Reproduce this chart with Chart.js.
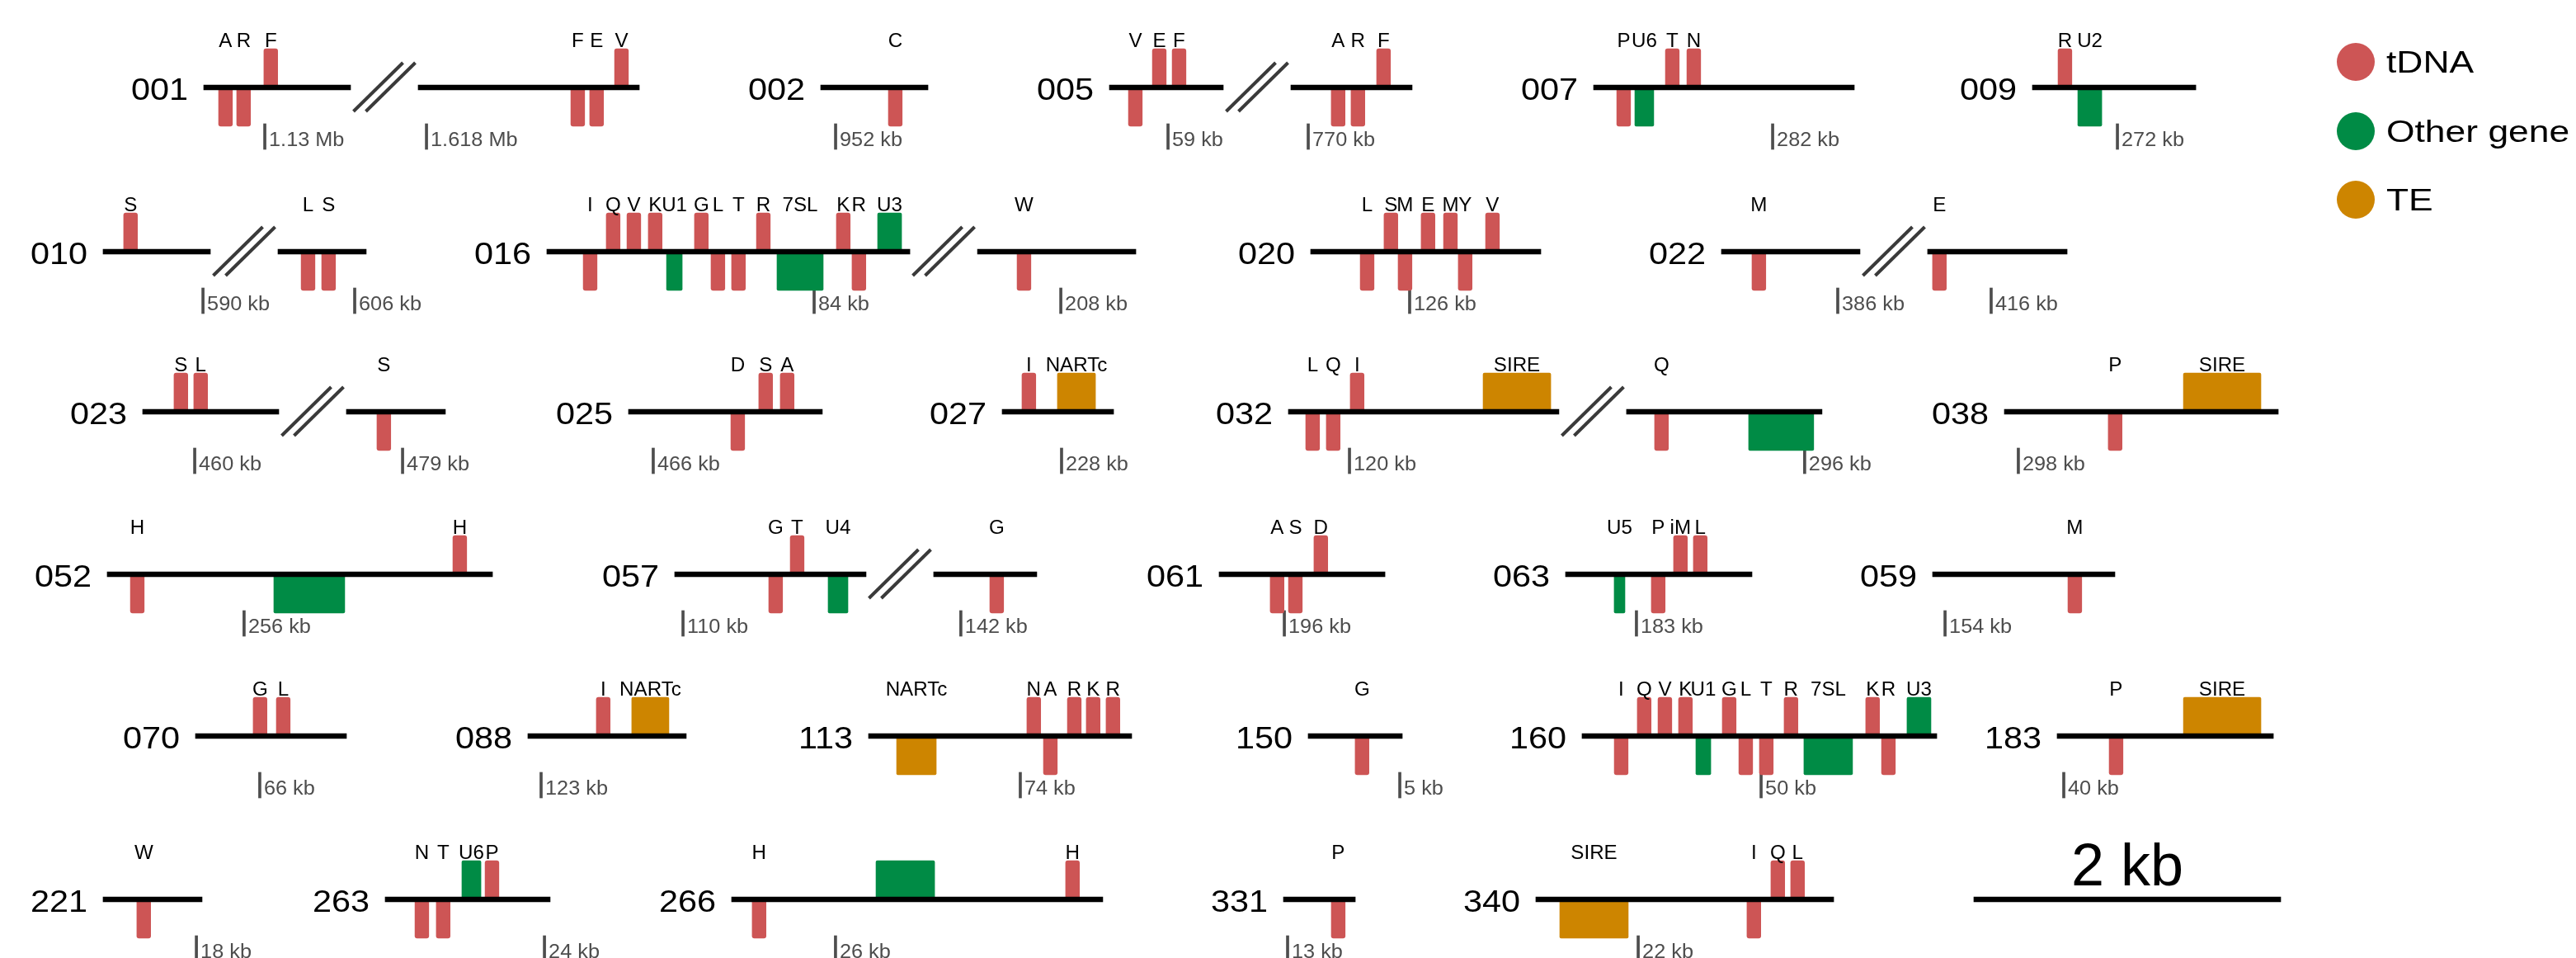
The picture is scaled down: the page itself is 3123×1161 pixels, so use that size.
<!DOCTYPE html>
<html>
<head>
<meta charset="utf-8">
<title>tDNA tracks</title>
<script src="https://cdn.jsdelivr.net/npm/chart.js@4.4.0/dist/chart.umd.min.js"></script>
<style>
    html, body { margin: 0; padding: 0; background: #fff; }
</style>
</head>
<body>
<canvas id="tracks" width="3123" height="1161"></canvas>
<script>
/* ── data: tracks, segments (kb), features (kb from segment start) ── */

const trackIds = ['001', '002', '005', '007', '009',
                  '010', '016', '020', '022',
                  '023', '025', '027', '032', '038',
                  '052', '057', '061', '063', '059',
                  '070', '088', '113', '150', '160', '183',
                  '221', '263', '266', '331', '340'];

// drawn length of each piece of a track, a break "//" sits between two pieces
const segmentKb = [
    [0.957, 1.441], [0.699], [0.742, 0.790], [1.699], [1.065],
    [0.699, 0.575], [2.366, 1.032], [1.500], [0.903, 0.909],
    [0.887, 0.645], [1.263], [0.726], [1.763, 1.274], [1.785],
    [2.511], [1.247, 0.672], [1.081], [1.215], [1.188],
    [0.984], [1.032], [1.715], [0.613], [2.312], [1.409],
    [0.645], [1.075], [2.419], [0.468], [1.941],
];

// tDNA: track, piece, start kb, strand (+1 above / -1 below), name
const TDNA_KB = 0.09;
const tdna = [
    ['001', 0, 0.097, -1, 'A'], ['001', 0, 0.215, -1, 'R'], ['001', 0, 0.392, 1, 'F'],
    ['001', 1, 0.995, -1, 'F'], ['001', 1, 1.118, -1, 'E'], ['001', 1, 1.280, 1, 'V'],
    ['002', 0, 0.441, -1, 'C'],
    ['005', 0, 0.124, -1, 'V'], ['005', 0, 0.280, 1, 'E'], ['005', 0, 0.409, 1, 'F'],
    ['005', 1, 0.263, -1, 'A'], ['005', 1, 0.392, -1, 'R'], ['005', 1, 0.559, 1, 'F'],
    ['007', 0, 0.151, -1, 'P'], ['007', 0, 0.468, 1, 'T'], ['007', 0, 0.608, 1, 'N'],
    ['009', 0, 0.167, 1, 'R'],
    ['010', 0, 0.134, 1, 'S'], ['010', 1, 0.151, -1, 'L'], ['010', 1, 0.285, -1, 'S'],
    ['016', 0, 0.237, -1, 'I'], ['016', 0, 0.387, 1, 'Q'], ['016', 0, 0.522, 1, 'V'],
    ['016', 0, 0.661, 1, 'K'], ['016', 0, 0.962, 1, 'G'], ['016', 0, 1.070, -1, 'L'],
    ['016', 0, 1.204, -1, 'T'], ['016', 0, 1.366, 1, 'R'], ['016', 0, 1.887, 1, 'K'],
    ['016', 0, 1.989, -1, 'R'], ['016', 1, 0.258, -1, 'W'],
    ['020', 0, 0.323, -1, 'L'], ['020', 0, 0.478, 1, 'S'], ['020', 0, 0.570, -1, 'M'],
    ['020', 0, 0.720, 1, 'E'], ['020', 0, 0.866, 1, 'M'], ['020', 0, 0.962, -1, 'Y'],
    ['020', 0, 1.140, 1, 'V'],
    ['022', 0, 0.199, -1, 'M'], ['022', 1, 0.032, -1, 'E'],
    ['023', 0, 0.204, 1, 'S'], ['023', 0, 0.333, 1, 'L'], ['023', 1, 0.199, -1, 'S'],
    ['025', 0, 0.667, -1, 'D'], ['025', 0, 0.849, 1, 'S'], ['025', 0, 0.989, 1, 'A'],
    ['027', 0, 0.129, 1, 'I'],
    ['032', 0, 0.113, -1, 'L'], ['032', 0, 0.247, -1, 'Q'], ['032', 0, 0.403, 1, 'I'],
    ['032', 1, 0.183, -1, 'Q'],
    ['038', 0, 0.677, -1, 'P'],
    ['052', 0, 0.151, -1, 'H'], ['052', 0, 2.253, 1, 'H'],
    ['057', 0, 0.613, -1, 'G'], ['057', 0, 0.753, 1, 'T'], ['057', 1, 0.366, -1, 'G'],
    ['061', 0, 0.333, -1, 'A'], ['061', 0, 0.452, -1, 'S'], ['061', 0, 0.618, 1, 'D'],
    ['063', 0, 0.559, -1, 'P'], ['063', 0, 0.704, 1, 'iM'], ['063', 0, 0.833, 1, 'L'],
    ['059', 0, 0.882, -1, 'M'],
    ['070', 0, 0.376, 1, 'G'], ['070', 0, 0.527, 1, 'L'],
    ['088', 0, 0.446, 1, 'I'],
    ['113', 0, 1.032, 1, 'N'], ['113', 0, 1.140, -1, 'A'], ['113', 0, 1.296, 1, 'R'],
    ['113', 0, 1.419, 1, 'K'], ['113', 0, 1.548, 1, 'R'],
    ['150', 0, 0.306, -1, 'G'],
    ['160', 0, 0.210, -1, 'I'], ['160', 0, 0.360, 1, 'Q'], ['160', 0, 0.495, 1, 'V'],
    ['160', 0, 0.629, 1, 'K'], ['160', 0, 0.914, 1, 'G'], ['160', 0, 1.022, -1, 'L'],
    ['160', 0, 1.156, -1, 'T'], ['160', 0, 1.317, 1, 'R'], ['160', 0, 1.849, 1, 'K'],
    ['160', 0, 1.952, -1, 'R'],
    ['183', 0, 0.339, -1, 'P'],
    ['221', 0, 0.220, -1, 'W'],
    ['263', 0, 0.194, -1, 'N'], ['263', 0, 0.333, -1, 'T'], ['263', 0, 0.651, 1, 'P'],
    ['266', 0, 0.134, -1, 'H'], ['266', 0, 2.177, 1, 'H'],
    ['331', 0, 0.312, -1, 'P'],
    ['340', 0, 1.376, -1, 'I'], ['340', 0, 1.532, 1, 'Q'], ['340', 0, 1.661, 1, 'L'],
];

// other genes / TE: track, piece, start kb, end kb, strand, name
const otherGenes = [
    ['007', 0, 0.269, 0.392, -1, 'U6'],
    ['009', 0, 0.296, 0.452, -1, 'U2'],
    ['016', 0, 0.780, 0.882, -1, 'U1'], ['016', 0, 1.500, 1.801, -1, '7SL'],
    ['016', 0, 2.156, 2.312, 1, 'U3'],
    ['032', 1, 0.796, 1.220, -1, ''],
    ['052', 0, 1.086, 1.548, -1, ''],
    ['057', 0, 1.000, 1.129, -1, 'U4'],
    ['063', 0, 0.317, 0.387, -1, 'U5'],
    ['160', 0, 0.742, 0.839, -1, 'U1'], ['160', 0, 1.446, 1.763, -1, '7SL'],
    ['160', 0, 2.118, 2.274, 1, 'U3'],
    ['263', 0, 0.500, 0.624, 1, 'U6'],
    ['266', 0, 0.941, 1.323, 1, ''],
];
const transposons = [
    ['027', 0, 0.360, 0.608, 1, 'NARTc'],
    ['032', 0, 1.269, 1.710, 1, 'SIRE'],
    ['038', 0, 1.167, 1.672, 1, 'SIRE'],
    ['088', 0, 0.677, 0.919, 1, 'NARTc'],
    ['113', 0, 0.183, 0.441, -1, 'NARTc'],
    ['183', 0, 0.823, 1.328, 1, 'SIRE'],
    ['340', 0, 0.156, 0.602, -1, 'SIRE'],
];

// genome coordinate marks under the tracks
const coordTicks = [
    ['001', 0, 0.398, '1.13 Mb'], ['001', 1, 0.054, '1.618 Mb'],
    ['002', 0, 0.097, '952 kb'],
    ['005', 0, 0.382, '59 kb'], ['005', 1, 0.113, '770 kb'],
    ['007', 0, 1.167, '282 kb'],
    ['009', 0, 0.554, '272 kb'],
    ['010', 0, 0.651, '590 kb'], ['010', 1, 0.500, '606 kb'],
    ['016', 0, 1.742, '84 kb'], ['016', 1, 0.543, '208 kb'],
    ['020', 0, 0.645, '126 kb'],
    ['022', 0, 0.758, '386 kb'], ['022', 1, 0.414, '416 kb'],
    ['023', 0, 0.339, '460 kb'], ['023', 1, 0.366, '479 kb'],
    ['025', 0, 0.161, '466 kb'],
    ['027', 0, 0.387, '228 kb'],
    ['032', 0, 0.398, '120 kb'], ['032', 1, 1.161, '296 kb'],
    ['038', 0, 0.091, '298 kb'],
    ['052', 0, 0.892, '256 kb'],
    ['057', 0, 0.054, '110 kb'], ['057', 1, 0.177, '142 kb'],
    ['061', 0, 0.425, '196 kb'],
    ['063', 0, 0.462, '183 kb'],
    ['059', 0, 0.081, '154 kb'],
    ['070', 0, 0.419, '66 kb'],
    ['088', 0, 0.086, '123 kb'],
    ['113', 0, 0.989, '74 kb'],
    ['150', 0, 0.597, '5 kb'],
    ['160', 0, 1.167, '50 kb'],
    ['183', 0, 0.043, '40 kb'],
    ['221', 0, 0.608, '18 kb'],
    ['263', 0, 1.038, '24 kb'],
    ['266', 0, 0.677, '26 kb'],
    ['331', 0, 0.027, '13 kb'],
    ['340', 0, 0.667, '22 kb'],
];

const scaleBarKb = 2;
const scaleBarLabel = '2 kb';
const legendLabels = ['tDNA', 'Other gene', 'TE'];

/* ── layout & style ── */

const W = 3123, H = 1161;
const PX_PER_KB = 186;
const BREAK_GAP = 82;
const rowY = [106, 305, 499, 696, 892, 1090];
const trackRow = [0, 0, 0, 0, 0, 1, 1, 1, 1, 2, 2, 2, 2, 2, 3, 3, 3, 3, 3,
                  4, 4, 4, 4, 4, 4, 5, 5, 5, 5, 5];
const trackLeft = [247, 995, 1345, 1932, 2464,
                   125, 663, 1589, 2087,
                   173, 762, 1215, 1562, 2430,
                   130, 818, 1478, 1898, 2343,
                   237, 640, 1053, 1586, 1918, 2494,
                   125, 467, 887, 1556, 1862];
const SCALE_LEFT = 2393;
const COLORS = { tdna: '#CD5555', other: '#008B45', te: '#CD8500' };
const FONT = '"Liberation Sans", Arial, sans-serif';

const trackIndex = id => trackIds.indexOf(id);
const lineOf = id => rowY[trackRow[trackIndex(id)]];

function posKb(id, seg, kb) {
    const ti = trackIndex(id);
    let px = trackLeft[ti];
    for (let s = 0; s < seg; s++) px += segmentKb[ti][s] * PX_PER_KB + BREAK_GAP;
    return px / PX_PER_KB + kb;
}

const boxY = (id, strand) => lineOf(id) - strand * 22.5;

// 线段
const lineBars = [];
trackIds.forEach((id, ti) => {
    segmentKb[ti].forEach((len, s) => {
        lineBars.push({ x: [posKb(id, s, 0), posKb(id, s, len)], y: lineOf(id) });
    });
});
const scaleLeftKb = SCALE_LEFT / PX_PER_KB;
lineBars.push({ x: [scaleLeftKb, scaleLeftKb + scaleBarKb], y: rowY[5] });

const tdnaBars = tdna.map(([id, seg, s, strand]) => ({ x: [posKb(id, seg, s), posKb(id, seg, s + TDNA_KB)], y: boxY(id, strand) }));
const spanBars = list => list.map(([id, seg, s, e, strand]) => ({ x: [posKb(id, seg, s), posKb(id, seg, e)], y: boxY(id, strand) }));

const TICK_HALF = 1.5 / PX_PER_KB;
const tickBars = coordTicks.map(([id, seg, kb]) => {
    const c = posKb(id, seg, kb);
    return { x: [c - TICK_HALF, c + TICK_HALF], y: lineOf(id) + 59.5 };
});

// break marks "//"
const slashSets = [];
trackIds.forEach((id, ti) => {
    if (segmentKb[ti].length < 2) return;
    const mid = posKb(id, 0, segmentKb[ti][0]) * PX_PER_KB + BREAK_GAP / 2;
    const ly = lineOf(id);
    [-7.5, 7.5].forEach(off => {
        const cx = mid + off;
        slashSets.push({
            type: 'line',
            data: [{ x: (cx - 30) / PX_PER_KB, y: ly + 29 }, { x: (cx + 30) / PX_PER_KB, y: ly - 30 }],
            borderColor: '#3a3a3a',
            borderWidth: 4,
            pointRadius: 0,
            order: 3,
        });
    });
});

const barSet = (label, data, color, thickness, order, radius) => ({
    type: 'bar', label, data, indexAxis: 'y', grouped: false,
    backgroundColor: color, barThickness: thickness,
    borderRadius: radius, borderSkipped: false, order,
});

/* ── text plugin ── */

function putText(ctx, txt, px, cy, size, align, color, stretch) {
    ctx.save();
    ctx.font = `${size}px ${FONT}`;
    ctx.fillStyle = color;
    ctx.textAlign = align;
    ctx.textBaseline = 'alphabetic';
    ctx.translate(px, cy + size * 0.358);
    ctx.scale(stretch, 1);
    ctx.fillText(txt, 0, 0);
    ctx.restore();
}

const trackText = {
    id: 'trackText',
    afterDatasetsDraw(chart) {
        const { ctx, scales: { x, y } } = chart;

        trackIds.forEach(id => {
            putText(ctx, id, x.getPixelForValue(posKb(id, 0, 0)) - 19, y.getPixelForValue(lineOf(id)) + 2, 36, 'right', '#000', 1.15);
        });

        const label = (id, seg, a, b, txt) => {
            if (!txt) return;
            putText(ctx, txt, x.getPixelForValue(posKb(id, seg, (a + b) / 2)), y.getPixelForValue(lineOf(id)) - 57, 23, 'center', '#000', 1.05);
        };
        tdna.forEach(([id, seg, s, , txt]) => label(id, seg, s, s + TDNA_KB, txt));
        otherGenes.forEach(([id, seg, s, e, , txt]) => label(id, seg, s, e, txt));
        transposons.forEach(([id, seg, s, e, , txt]) => label(id, seg, s, e, txt));

        coordTicks.forEach(([id, seg, kb, txt]) => {
            putText(ctx, txt, x.getPixelForValue(posKb(id, seg, kb)) + 5, y.getPixelForValue(lineOf(id)) + 63, 23, 'left', '#4d4d4d', 1.1);
        });

        putText(ctx, scaleBarLabel, x.getPixelForValue(scaleLeftKb + scaleBarKb / 2), y.getPixelForValue(rowY[5]) - 43, 72, 'center', '#000', 1.0);

        // 图例
        const legendColors = [COLORS.tdna, COLORS.other, COLORS.te];
        const legendY = [75, 159, 242];
        legendLabels.forEach((txt, i) => {
            ctx.beginPath();
            ctx.arc(2856, legendY[i], 23, 0, Math.PI * 2);
            ctx.fillStyle = legendColors[i];
            ctx.fill();
            putText(ctx, txt, 2893, legendY[i], 37, 'left', '#000', 1.2);
        });
    },
};

new Chart(document.getElementById('tracks'), {
    type: 'bar',
    data: {
        datasets: [
            barSet('track', lineBars, '#000', 6, 0, 0),
            barSet('tDNA', tdnaBars, COLORS.tdna, 49, 1, 3),
            barSet('Other gene', spanBars(otherGenes), COLORS.other, 49, 1, 2),
            barSet('TE', spanBars(transposons), COLORS.te, 49, 1, 2),
            barSet('coordinate', tickBars, '#4d4d4d', 31, 2, 0),
            ...slashSets,
        ],
    },
    options: {
        responsive: false,
        devicePixelRatio: 1,
        animation: false,
        events: [],
        layout: { padding: 0 },
        plugins: { legend: { display: false }, tooltip: { enabled: false } },
        scales: {
            x: { type: 'linear', min: 0, max: W / PX_PER_KB, display: false, offset: false },
            y: { type: 'linear', min: 0, max: H, reverse: true, display: false, offset: false },
        },
    },
    plugins: [trackText],
});
</script>
</body>
</html>
